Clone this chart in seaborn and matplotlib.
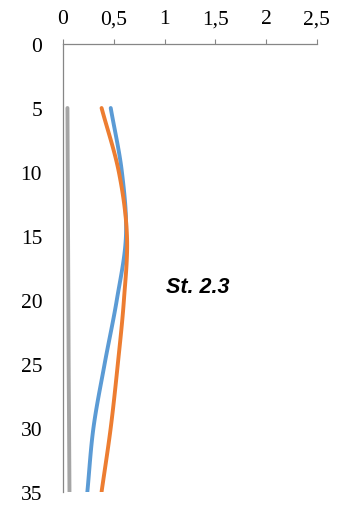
import numpy as np
import pandas as pd
import matplotlib
matplotlib.use("Agg")
import matplotlib.pyplot as plt
import seaborn as sns

depth = [5, 10, 15, 20, 25, 30, 35]
blue_vals = [0.47, 0.58, 0.62, 0.53, 0.41, 0.30, 0.24]
orange_vals = [0.38, 0.55, 0.63, 0.60, 0.54, 0.47, 0.38]
gray_vals = [0.044, 0.047, 0.05, 0.053, 0.056, 0.06, 0.064]
x_ticks = [0, 0.5, 1, 1.5, 2, 2.5]
x_labels = ['0', '0,5', '1', '1,5', '2', '2,5']
y_ticks = [0, 5, 10, 15, 20, 25, 30, 35]
label_text = 'St. 2.3'


def smooth(xs, ys, n=20):
    # catmull-rom curve through the points, like excel smoothed lines
    p = np.column_stack([xs, ys]).astype(float)
    p = np.vstack([p[0] * 2 - p[1], p, p[-1] * 2 - p[-2]])
    out = []
    for i in range(1, len(p) - 2):
        t = np.linspace(0, 1, n, endpoint=False)[:, None]
        p0, p1, p2, p3 = p[i - 1], p[i], p[i + 1], p[i + 2]
        c = 0.5 * ((2 * p1) + (-p0 + p2) * t + (2 * p0 - 5 * p1 + 4 * p2 - p3) * t ** 2
                   + (-p0 + 3 * p1 - 3 * p2 + p3) * t ** 3)
        out.append(c)
    out.append(p[-2][None, :])
    out = np.vstack(out)
    return out[:, 0], out[:, 1]


sns.set_style("white")
plt.rcParams['font.family'] = ['Liberation Serif', 'DejaVu Serif']

fig = plt.figure(figsize=(3.46, 5.06), dpi=100)
ax = fig.add_axes([0.182, 0.026, 0.734, 0.885])

series = [(gray_vals, '#A5A5A5'), (blue_vals, '#5B9BD5'), (orange_vals, '#ED7D31')]
for vals, col in series:
    sx, sy = smooth(vals, depth)
    df = pd.DataFrame({'x': sx, 'y': sy})
    sns.lineplot(data=df, x='x', y='y', sort=False, estimator=None, color=col,
                 linewidth=2.8, ax=ax)

ax.set_xlim(0, 2.5)
ax.set_ylim(35, 0)
ax.xaxis.tick_top()
ax.set_xticks(x_ticks)
ax.set_xticklabels(x_labels)
ax.set_yticks(y_ticks)
ax.set_xlabel('')
ax.set_ylabel('')
ax.tick_params(axis='both', labelsize=15.5, labelcolor='black', color='#868686',
               width=0.8, direction='out')
ax.tick_params(axis='x', length=3.5, pad=8)
ax.tick_params(axis='y', length=5, pad=10)
for s in ['right', 'bottom']:
    ax.spines[s].set_visible(False)
for s in ['left', 'top']:
    ax.spines[s].set_color('#868686')
    ax.spines[s].set_linewidth(0.9)
ax.grid(False)

ax.text(1.33, 18.95, label_text, fontsize=15.5, fontweight='bold', style='italic',
        family='Liberation Sans', ha='center', va='center', color='black')

fig.savefig('out.png', dpi=100)
